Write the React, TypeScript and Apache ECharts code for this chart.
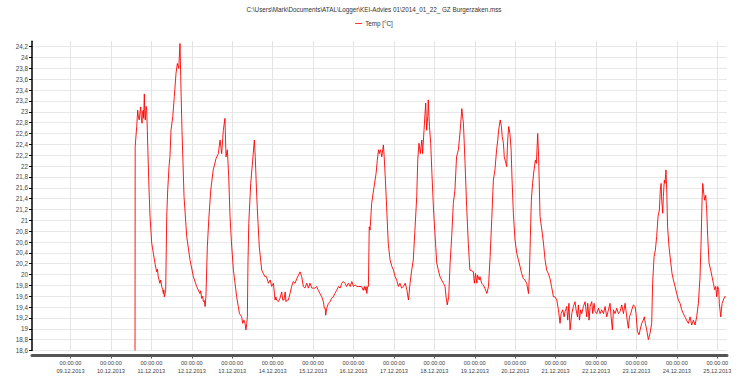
import React, { useEffect, useRef } from "react";
import * as echarts from "echarts";

// Title / legend
const chartTitle = "C:\\Users\\Mark\\Documents\\ATAL\\Logger\\KEI-Advies 01\\2014_01_22_ GZ Burgerzaken.mss";
const seriesName = "Temp [°C]";

// Y ticks
const yTicks = [18.6, 18.8, 19, 19.2, 19.4, 19.6, 19.8, 20, 20.2, 20.4, 20.6, 20.8, 21, 21.2, 21.4, 21.6, 21.8, 22, 22.2, 22.4, 22.6, 22.8, 23, 23.2, 23.4, 23.6, 23.8, 24, 24.2];
// X ticks: day of December 2013 at 00:00:00
const xTickDays = [9, 10, 11, 12, 13, 14, 15, 16, 17, 18, 19, 20, 21, 22, 23, 24, 25];
const xMinDay = 8.0475;
const xMaxDay = 25.24;

// Readings: [day of December 2013 (fractional), temperature °C]
const dec10: [number, number][] = [
  [10.596, 18.6], [10.6, 22.36], [10.638, 22.73], [10.662, 23.03], [10.68, 22.9], [10.7, 22.85], [10.72, 23.0], [10.737, 23.09],
  [10.75, 22.9], [10.77, 22.79], [10.78, 23.0], [10.8, 23.03], [10.81, 22.88], [10.826, 23.33], [10.84, 22.95], [10.85, 22.85],
  [10.87, 23.1], [10.885, 23.03], [10.9, 22.66], [10.935, 21.74], [10.967, 21.07],
];
const dec11: [number, number][] = [
  [11.009, 20.58], [11.05, 20.39], [11.09, 20.21], [11.13, 20.05], [11.15, 20.1], [11.17, 19.96], [11.21, 19.84], [11.23, 19.9],
  [11.256, 19.78], [11.28, 19.72], [11.296, 19.65], [11.31, 19.72], [11.32, 19.59], [11.355, 19.71], [11.38, 21.07], [11.405, 21.56],
  [11.437, 21.99], [11.46, 22.17], [11.486, 22.66], [11.53, 22.91], [11.568, 23.28], [11.61, 23.71], [11.643, 23.89], [11.677, 23.8],
  [11.709, 24.26], [11.726, 23.65], [11.758, 22.66], [11.808, 21.44], [11.875, 20.7], [11.956, 20.27],
];
const dec12: [number, number][] = [
  [12.04, 19.96], [12.12, 19.78], [12.2, 19.65], [12.22, 19.7], [12.246, 19.56], [12.27, 19.6], [12.286, 19.5], [12.31, 19.52],
  [12.33, 19.41], [12.35, 19.59], [12.385, 20.51], [12.42, 21.01], [12.47, 21.56], [12.53, 21.93], [12.6, 22.14], [12.657, 22.23],
  [12.7, 22.48], [12.74, 22.23], [12.78, 22.66], [12.82, 22.88], [12.847, 22.17], [12.88, 22.3], [12.914, 21.8], [12.946, 21.07],
  [12.988, 20.51],
];
const dec13: [number, number][] = [
  [13.03, 20.08], [13.07, 19.84], [13.11, 19.59], [13.15, 19.41], [13.18, 19.28], [13.235, 19.22], [13.26, 19.1], [13.29, 19.16],
  [13.317, 19.1], [13.34, 18.98], [13.36, 19.1], [13.375, 19.22], [13.39, 20.21], [13.41, 20.94], [13.458, 21.68], [13.507, 22.11],
  [13.548, 22.48], [13.57, 22.17], [13.607, 21.44], [13.64, 20.94], [13.67, 20.51], [13.73, 20.08], [13.77, 20.02], [13.81, 19.96],
  [13.85, 19.96], [13.895, 19.84], [13.94, 19.9], [13.977, 19.78],
];
const dec14: [number, number][] = [
  [14.02, 19.84], [14.06, 19.53], [14.08, 19.59], [14.1, 19.53], [14.14, 19.5], [14.18, 19.56], [14.225, 19.68], [14.25, 19.53],
  [14.28, 19.53], [14.31, 19.68], [14.33, 19.5], [14.36, 19.53], [14.39, 19.53], [14.43, 19.65], [14.47, 19.78], [14.51, 19.87],
  [14.555, 19.84], [14.6, 19.93], [14.64, 19.99], [14.68, 20.05], [14.72, 19.96], [14.76, 19.78], [14.8, 19.75], [14.845, 19.84],
  [14.885, 19.75], [14.925, 19.84], [14.97, 19.75],
];
const dec15: [number, number][] = [
  [15.01, 19.75], [15.05, 19.75], [15.09, 19.78], [15.13, 19.71], [15.17, 19.65], [15.215, 19.59], [15.255, 19.5], [15.28, 19.38],
  [15.3, 19.38], [15.313, 19.25], [15.338, 19.38], [15.38, 19.47], [15.42, 19.5], [15.46, 19.56], [15.5, 19.59], [15.54, 19.65],
  [15.585, 19.71], [15.63, 19.78], [15.67, 19.75], [15.71, 19.84], [15.75, 19.87], [15.79, 19.84], [15.83, 19.78], [15.874, 19.84],
  [15.92, 19.78], [15.96, 19.87],
];
const dec16: [number, number][] = [
  [16.0, 19.78], [16.04, 19.81], [16.08, 19.78], [16.12, 19.78], [16.16, 19.78], [16.2, 19.78], [16.24, 19.71], [16.27, 19.78],
  [16.29, 19.71], [16.31, 19.78], [16.33, 19.65], [16.35, 19.78], [16.37, 19.78], [16.39, 20.88], [16.41, 20.82], [16.45, 21.31],
  [16.51, 21.62], [16.56, 21.87], [16.59, 22.11], [16.62, 22.3], [16.64, 22.23], [16.67, 22.3], [16.7, 22.17], [16.74, 22.39],
  [16.76, 22.17], [16.79, 21.74], [16.82, 21.25], [16.86, 20.58], [16.905, 20.27], [16.95, 20.15], [16.99, 20.08],
];
const dec17: [number, number][] = [
  [17.03, 19.96], [17.07, 19.9], [17.11, 19.78], [17.15, 19.84], [17.19, 19.75], [17.235, 19.78], [17.28, 19.84], [17.32, 19.72],
  [17.36, 19.53], [17.4, 19.84], [17.44, 20.08], [17.48, 20.27], [17.52, 20.82], [17.565, 21.44], [17.59, 22.11], [17.62, 22.42],
  [17.655, 22.23], [17.69, 22.48], [17.71, 22.23], [17.745, 22.66], [17.77, 22.97], [17.787, 23.16], [17.81, 22.66], [17.837, 22.91],
  [17.85, 23.22], [17.88, 22.73], [17.91, 22.42], [17.94, 21.87], [17.98, 21.19],
];
const dec18: [number, number][] = [
  [18.02, 20.7], [18.06, 20.21], [18.1, 20.08], [18.14, 19.96], [18.18, 19.9], [18.225, 19.84], [18.265, 19.78], [18.29, 19.59],
  [18.32, 19.44], [18.356, 19.59], [18.39, 20.21], [18.43, 20.7], [18.47, 21.31], [18.51, 21.56], [18.55, 22.17], [18.595, 22.3],
  [18.64, 22.66], [18.68, 23.06], [18.7, 22.91], [18.72, 22.79], [18.76, 22.05], [18.8, 21.25], [18.84, 20.58], [18.88, 20.08],
  [18.925, 20.07], [18.966, 20.05],
];
const dec19: [number, number][] = [
  [18.99, 19.84], [19.02, 20.02], [19.05, 19.84], [19.07, 19.99], [19.11, 19.9], [19.13, 19.96], [19.17, 19.84], [19.21, 19.81],
  [19.25, 19.75], [19.3, 19.65], [19.34, 19.78], [19.38, 20.33], [19.42, 21.01], [19.46, 21.74], [19.5, 21.93], [19.54, 22.3],
  [19.57, 22.48], [19.59, 22.66], [19.63, 22.85], [19.66, 22.73], [19.68, 22.54], [19.71, 22.42], [19.73, 22.17], [19.77, 22.05],
  [19.79, 21.99], [19.815, 22.48], [19.84, 22.73], [19.87, 22.6], [19.9, 22.3], [19.92, 21.8], [19.955, 21.13], [19.996, 20.64],
];
const dec20: [number, number][] = [
  [20.04, 20.39], [20.08, 20.27], [20.12, 20.15], [20.16, 20.02], [20.2, 19.93], [20.24, 19.9], [20.285, 19.84], [20.33, 19.65],
  [20.35, 19.96], [20.376, 20.7], [20.4, 21.37], [20.43, 21.68], [20.467, 21.93], [20.5, 22.11], [20.525, 22.05], [20.557, 22.6],
  [20.58, 22.17], [20.615, 21.07], [20.66, 20.82], [20.7, 20.58], [20.74, 20.27], [20.78, 20.08], [20.82, 20.02], [20.86, 19.93],
  [20.9, 19.78], [20.946, 19.59], [20.985, 19.59],
];
const dec21: [number, number][] = [
  [21.03, 19.53], [21.07, 19.35], [21.11, 19.1], [21.136, 19.28], [21.176, 19.35], [21.21, 19.22], [21.234, 19.32], [21.276, 19.41],
  [21.3, 19.16], [21.33, 19.47], [21.358, 18.98], [21.4, 19.28], [21.44, 19.41], [21.48, 19.5], [21.507, 19.35], [21.54, 19.22],
  [21.564, 19.44], [21.59, 19.16], [21.62, 19.35], [21.647, 19.28], [21.688, 19.41], [21.73, 19.5], [21.77, 19.22], [21.795, 19.47],
  [21.828, 19.16], [21.853, 19.41], [21.894, 19.5], [21.919, 19.28], [21.952, 19.47], [21.977, 19.32],
];
const dec22: [number, number][] = [
  [22.018, 19.28], [22.06, 19.38], [22.1, 19.28], [22.14, 19.35], [22.183, 19.28], [22.224, 19.41], [22.265, 19.22], [22.307, 19.35],
  [22.348, 19.47], [22.373, 19.22], [22.405, 18.98], [22.43, 19.35], [22.47, 19.28], [22.513, 19.38], [22.554, 19.28], [22.595, 19.32],
  [22.636, 19.44], [22.678, 19.28], [22.719, 19.47], [22.76, 19.22], [22.8, 19.01], [22.826, 19.22], [22.859, 19.28], [22.884, 19.35],
  [22.925, 19.44], [22.966, 19.41], [22.99, 19.28],
];
const dec23: [number, number][] = [
  [23.024, 18.95], [23.065, 18.89], [23.09, 18.98], [23.13, 19.1], [23.17, 19.16], [23.196, 19.22], [23.22, 19.1], [23.254, 18.98],
  [23.295, 18.8], [23.336, 18.92], [23.377, 19.1], [23.4, 19.84], [23.436, 20.33], [23.468, 20.45], [23.5, 20.7], [23.534, 21.07],
  [23.567, 21.19], [23.59, 21.56], [23.61, 21.68], [23.625, 21.37], [23.65, 21.13], [23.666, 21.44], [23.69, 21.74], [23.707, 21.68],
  [23.73, 21.93], [23.749, 21.56], [23.77, 20.88], [23.806, 20.51], [23.85, 20.21], [23.88, 20.02], [23.914, 19.9], [23.955, 19.78],
  [23.996, 19.65],
];
const dec24: [number, number][] = [
  [24.037, 19.53], [24.079, 19.47], [24.12, 19.35], [24.16, 19.28], [24.2, 19.22], [24.24, 19.16], [24.285, 19.1], [24.326, 19.22],
  [24.367, 19.07], [24.41, 19.16], [24.45, 19.07], [24.49, 19.22], [24.532, 19.47], [24.573, 19.96], [24.598, 20.58], [24.623, 21.37],
  [24.64, 21.68], [24.664, 21.5], [24.689, 21.37], [24.714, 21.46], [24.738, 21.19], [24.763, 20.7], [24.796, 20.21], [24.837, 20.08],
  [24.87, 19.96], [24.903, 19.84], [24.936, 19.72], [24.961, 19.78], [24.986, 19.59],
];
const dec25: [number, number][] = [
  [25.01, 19.78], [25.035, 19.72], [25.05, 19.47], [25.085, 19.22], [25.118, 19.47], [25.15, 19.53], [25.18, 19.59], [25.21, 19.59],
];

const DAY = 86400000;
const BASE = Date.UTC(2013, 10, 30); // day d of December 2013 -> BASE + d * DAY
const toTime = (d: number) => BASE + d * DAY;

const pad = (n: number) => String(n).padStart(2, "0");

export default function App() {
  const ref = useRef<HTMLDivElement>(null);

  useEffect(() => {
    if (!ref.current) return;
    const chart = echarts.init(ref.current, undefined, { renderer: "svg" });
    const all = [
      ...dec10, ...dec11, ...dec12, ...dec13, ...dec14, ...dec15, ...dec16, ...dec17,
      ...dec18, ...dec19, ...dec20, ...dec21, ...dec22, ...dec23, ...dec24, ...dec25,
    ];
    const data = all.map(([d, v]) => [toTime(d), v]);
    const font = "'Liberation Sans', Arial, sans-serif";

    chart.setOption({
      animation: false,
      backgroundColor: "#ffffff",
      title: {
        text: chartTitle,
        left: "center",
        top: 6.5,
        padding: 0,
        textStyle: { fontSize: 6.3, fontWeight: "normal", color: "#333", fontFamily: font },
      },
      legend: {
        data: [{ name: seriesName, icon: "rect", itemStyle: { color: "#ff3333" } }],
        left: "center",
        top: 20.5,
        padding: 0,
        itemWidth: 7,
        itemHeight: 1,
        itemGap: 4,
        textStyle: { fontSize: 6.3, color: "#333", fontFamily: font, padding: [0, 0, 0, -2] },
      },
      grid: {
        left: 32,
        right: 21,
        top: 41.3,
        bottom: 28.5,
        containLabel: false,
        outerBoundsMode: "none",
      },
      xAxis: {
        type: "value",
        min: toTime(xMinDay),
        max: toTime(xMaxDay),
        offset: 5,
        axisLine: { show: true, lineStyle: { color: "#555", width: 3 } },
        axisTick: {
          show: true,
          length: 3,
          lineStyle: { color: "#555", width: 1 },
          customValues: xTickDays.map(toTime),
        },
        axisLabel: {
          show: true,
          margin: 3,
          fontSize: 5.6,
          lineHeight: 8.4,
          color: "#444",
          fontFamily: font,
          customValues: xTickDays.map(toTime),
          formatter: (v: number) => {
            const dt = new Date(v);
            return `${pad(dt.getUTCHours())}:${pad(dt.getUTCMinutes())}:${pad(dt.getUTCSeconds())}\n${pad(dt.getUTCDate())}.${pad(dt.getUTCMonth() + 1)}.${dt.getUTCFullYear()}`;
          },
        },
        splitLine: { show: true, lineStyle: { color: "#e4e4e4", width: 1 } },
      },
      yAxis: {
        type: "value",
        min: 18.6,
        max: 24.3,
        axisLine: { show: true, lineStyle: { color: "#000", width: 1.5 } },
        axisTick: {
          show: true,
          length: 3,
          lineStyle: { color: "#000", width: 1 },
          customValues: yTicks,
        },
        axisLabel: {
          show: true,
          margin: 4,
          fontSize: 6.3,
          color: "#444",
          fontFamily: font,
          customValues: yTicks,
          formatter: (v: number) => String(Math.round(v * 10) / 10).replace(".", ","),
        },
        splitLine: { show: true, lineStyle: { color: "#e8e8e8", width: 1 } },
      },
      series: [
        {
          name: seriesName,
          type: "line",
          data,
          showSymbol: false,
          symbol: "none",
          lineStyle: { color: "#ff0000", width: 0.9 },
          itemStyle: { color: "#ff0000" },
          clip: true,
        },
      ],
    });

    return () => chart.dispose();
  }, []);

  return (
    <div
      ref={ref}
      style={{ position: "absolute", left: 0, top: 0, width: 748, height: 379 }}
    />
  );
}
